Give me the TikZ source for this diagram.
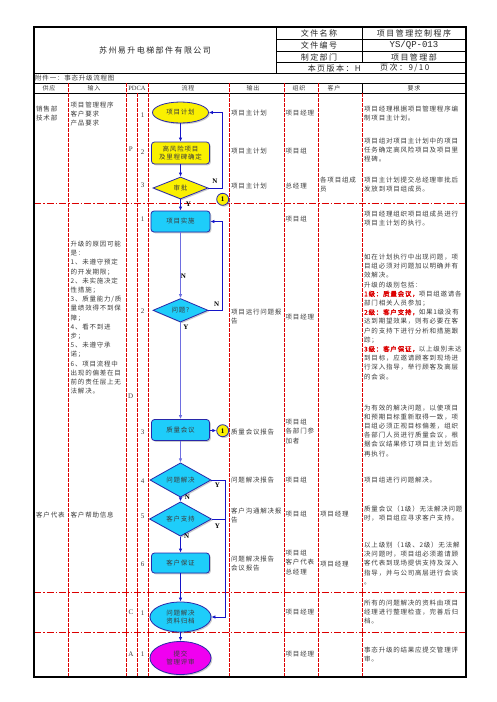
\documentclass[tikz,border=0pt]{standalone}
\usepackage{fontspec}
\setmainfont{Noto Sans CJK SC}
\newfontfamily\cjk[LetterSpace=12]{Noto Sans CJK SC}
\newfontfamily\cjkb[LetterSpace=12,FakeBold=2]{Noto Sans CJK SC}
\newfontfamily\cjkh[LetterSpace=18]{Noto Sans CJK SC}
\newfontfamily\latf{Liberation Serif}
\newfontfamily\monof{Liberation Mono}
\usetikzlibrary{shapes.geometric,arrows.meta,shadows}
\definecolor{lred}{RGB}{220,0,0}
\definecolor{bord}{RGB}{40,40,170}
\definecolor{conn}{RGB}{20,20,200}
\definecolor{connl}{RGB}{110,110,225}
\definecolor{fy}{RGB}{250,240,0}
\definecolor{fc}{RGB}{30,205,250}
\definecolor{fm}{RGB}{240,0,240}
\definecolor{txt}{RGB}{60,60,60}
\begin{document}
\begin{tikzpicture}[x=1pt,y=-1pt,
  body/.style={font=\cjk\fontsize{6.5}{9.2}\selectfont, text=txt, inner sep=0pt, align=left, anchor=north west},
  hdrtxt/.style={font=\cjkh\fontsize{8}{9}\selectfont, text=black!85, inner sep=0pt},
  colhd/.style={font=\cjk\fontsize{6}{7}\selectfont, text=txt, inner sep=0pt},
  numtxt/.style={font=\latf\fontsize{7}{8}\selectfont, text=txt, inner sep=0pt},
  yn/.style={font=\latf\fontsize{7}{8}\selectfont\bfseries, text=black, inner sep=0pt},
  shp/.style={draw=bord, line width=0.8pt, drop shadow={shadow xshift=1.3pt, shadow yshift=-1.3pt, opacity=0.4}, font=\cjk\fontsize{6.5}{8.5}\selectfont, text=txt, inner sep=0pt, align=center},
  rbox/.style={shp, rectangle, rounded corners=3pt},
  dia/.style={shp, diamond},
  ell/.style={shp, ellipse},
  onpage/.style={shp, circle, fill=fy, minimum size=12pt, font=\latf\fontsize{7}{8}\selectfont\bfseries, text=black},
  con/.style={draw=conn, line width=0.8pt, -{Latex[length=4pt,width=3.5pt]}},
  conl/.style={draw=connl, line width=0.9pt, -{Latex[length=4pt,width=3.5pt]}},
  lnk/.style={draw=conn, line width=0.8pt},
  vd/.style={draw=lred, line width=0.75pt, dash pattern=on 3.5pt off 1.5pt},
  hd/.style={draw=lred, line width=0.75pt, dash pattern=on 7pt off 2pt on 1.5pt off 2pt},
  bl/.style={draw=black, line width=0.8pt}
]
\useasboundingbox (0,0) rectangle (496,702);
\fill[white] (0,0) rectangle (496,702);

% ---------- grid ----------
\draw[bl] (276,27) -- (276,73);
\draw[bl] (362,27) -- (362,62);
\draw[bl] (276,39) -- (466,39);
\draw[bl] (276,51) -- (466,51);
\draw[bl] (276,62) -- (466,62);
\draw[bl] (34,73) -- (466,73);
\draw[bl] (34,83) -- (466,83);
\draw[bl] (34,93) -- (466,93);
\draw[bl] (362,83) -- (362,93);
\foreach \x in {68,126,148,229,284,318} \draw[vd] (\x,83) -- (\x,677);
\foreach \x in {137,362} \draw[vd] (\x,93) -- (\x,677);
\foreach \y in {203,592,632} \draw[hd] (34,\y) -- (466,\y);
\draw[line width=1.1pt] (34,27) rectangle (466,677);

% ---------- header ----------
\node[hdrtxt] (comp) at (155,50) {苏州易升电梯部件有限公司};
\node[hdrtxt] (h11) at (319,33) {文件名称};
\node[hdrtxt] (h12) at (414,33) {项目管理控制程序};
\node[hdrtxt] (h21) at (319,45) {文件编号};
\node[font=\monof\fontsize{9}{10}\selectfont, text=black!85, inner sep=0pt] (h22) at (414,45) {YS/QP-013};
\node[hdrtxt] (h31) at (319,57) {制定部门};
\node[hdrtxt] (h32) at (414,57) {项目管理部};
\node[hdrtxt, anchor=east] (h41) at (361,68) {本页版本：H};
\node[hdrtxt, anchor=west] (h42) at (380,68) {页次：9/10};
\node[colhd, anchor=west, font=\cjk\fontsize{6.5}{7}\selectfont] (att) at (35,78) {附件一：事态升级流程图};
\node[colhd] (c1) at (49,88) {供应};
\node[colhd] (c2) at (94,88) {输入};
\node[colhd, font=\latf\fontsize{6.5}{7}\selectfont] (c3) at (137,88) {PDCA};
\node[colhd] (c4) at (188,88) {流程};
\node[colhd] (c5) at (253,88) {输出};
\node[colhd] (c6) at (299,88) {组织};
\node[colhd] (c7) at (334,88) {客户};
\node[colhd] (c8) at (414,88) {要求};

% ---------- PDCA letters and step numbers ----------
\node[numtxt] (lp) at (130.7,149.3) {P};
\node[numtxt] (ld) at (130.7,396.7) {D};
\node[numtxt] (lc) at (131,612.7) {C};
\node[numtxt] (la) at (131,654.3) {A};
\node[numtxt] (n1) at (142.5,114.7) {1};
\node[numtxt] (n2) at (142.5,151.7) {2};
\node[numtxt] (n3) at (142.5,185.7) {3};
\node[numtxt] (n4) at (142.5,219.3) {1};
\node[numtxt] (n5) at (142.5,310.7) {2};
\node[numtxt] (n6) at (142.5,432.7) {3};
\node[numtxt] (n7) at (142.5,480.7) {4};
\node[numtxt] (n8) at (142.5,516) {5};
\node[numtxt] (n9) at (142.5,564.3) {6};
\node[numtxt] (n10) at (142.5,612.7) {1};
\node[numtxt] (n11) at (142.5,654.3) {1};

% ---------- supply / input ----------
\node[body] (s1) at (36,105.8) {销售部\\技术部};
\node[body] (s2) at (36,511.8) {客户代表};
\node[body] (i1) at (70.5,101.8) {项目管理程序\\客户要求\\产品要求};
\node[body] (i2) at (70.5,240.8) {升级的原因可能\\是：\\1、未遵守预定\\的开发期限；\\2、未实施决定\\性措施；\\3、质量能力/质\\量绩效得不到保\\障；\\4、看不到进\\步；\\5、未遵守承\\诺；\\6、项目流程中\\出现的偏差在目\\前的责任层上无\\法解决。};
\node[body] (i3) at (70.5,511.8) {客户帮助信息};

% ---------- output ----------
\node[body] (o1) at (231,109.8) {项目主计划};
\node[body] (o2) at (231,147.8) {项目主计划};
\node[body] (o3) at (231,182.8) {项目主计划};
\node[body] (o4) at (231,308.8) {项目运行问题报\\告};
\node[body] (o5) at (231,428.5) {质量会议报告};
\node[body] (o6) at (231,476.8) {问题解决报告};
\node[body] (o7) at (231,507.5) {客户沟通解决报\\告};
\node[body] (o8) at (231,556.1) {问题解决报告\\会议报告};

% ---------- organisation ----------
\node[body] (g1) at (285.5,109.8) {项目经理};
\node[body] (g2) at (285.5,147.8) {项目组};
\node[body] (g3) at (285.5,182.8) {总经理};
\node[body] (g4) at (285.5,215.8) {项目组};
\node[body] (g5) at (285.5,313.8) {项目经理};
\node[body] (g6) at (285.5,419.1) {项目组\\各部门参\\加者};
\node[body] (g7) at (285.5,476.8) {项目组};
\node[body] (g8) at (285.5,511.1) {项目组};
\node[body] (g9) at (285.5,550.1) {项目组\\客户代表\\总经理};
\node[body] (g10) at (285.5,608.5) {项目经理};
\node[body] (g11) at (285.5,650.8) {项目经理};

% ---------- customer ----------
\node[body] (k1) at (320,176.8) {各项目组成\\员};
\node[body] (k2) at (320,511.1) {项目经理};
\node[body] (k3) at (320,560.8) {项目经理};

% ---------- requirements ----------
\node[body] (r1) at (364,105.8) {项目经理根据项目管理程序编\\制项目主计划。};
\node[body] (r2) at (364,137.8) {项目组对项目主计划中的项目\\任务确定高风险项目及项目里\\程碑。};
\node[body] (r3) at (364,176.8) {项目主计划提交总经理审批后\\发放到项目组成员。};
\node[body] (r4) at (364,210.8) {项目经理组织项目组成员进行\\项目主计划的执行。};
\node[body] (r5) at (364,253.8) {如在计划执行中出现问题，项\\目组必须对问题加以明确并有\\效解决。\\升级的级别包括：\\{\color{lred}\cjkb 1级：质量会议，}项目组邀请各\\部门相关人员参加；\\{\color{lred}\cjkb 2级：客户支持，}如果1级没有\\达到期望效果，则有必要在客\\户的支持下进行分析和措施跟\\踪；\\{\color{lred}\cjkb 3级：客户保证，}以上级别未达\\到目标，应邀请顾客到现场进\\行深入指导，举行顾客及高层\\的会谈。};
\node[body] (r6) at (364,404.5) {为有效的解决问题，以使项目\\和预期目标重新取得一致，项\\目组必须正视目标偏差，组织\\各部门人员进行质量会议，根\\据会议结果修订项目主计划后\\再执行。};
\node[body] (r7) at (364,476.8) {项目组进行问题解决。};
\node[body] (r8) at (364,505.8) {质量会议（1级）无法解决问题\\时，项目组应寻求客户支持。};
\node[body] (r9) at (364,541.8) {以上级别（1级、2级）无法解\\决问题时，项目组必须邀请顾\\客代表到现场提供支持及深入\\指导，并与公司高层进行会谈\\。};
\node[body] (r10) at (364,599.5) {所有的问题解决的资料由项目\\经理进行整理检查，完善后归\\档。};
\node[body] (r11) at (364,646.8) {事态升级的结果应提交管理评\\审。};

% ---------- flow shapes ----------
\node[ell, fill=fy, minimum width=56pt, minimum height=21pt] (plan) at (180.5,112.5) {项目计划};
\node[rbox, fill=fy, minimum width=58pt, minimum height=22pt] (risk) at (180.5,153) {高风险项目\\及里程碑确定};
\node[dia, fill=fy, minimum width=55pt, minimum height=22pt] (appr) at (180.5,188) {审批};
\node[rbox, fill=fc, minimum width=59pt, minimum height=21pt] (exec) at (180.5,221.5) {项目实施};
\node[dia, fill=fc, minimum width=55pt, minimum height=22pt] (issue) at (180.5,310.3) {问题?};
\node[rbox, fill=fc, minimum width=58pt, minimum height=21pt] (qm) at (180.5,430) {质量会议};
\node[dia, fill=fc, minimum width=61pt, minimum height=22pt] (solved) at (180.5,480) {问题解决};
\node[dia, fill=fc, minimum width=62pt, minimum height=22pt] (cust) at (180.5,519) {客户支持};
\node[rbox, fill=fc, minimum width=58pt, minimum height=20pt] (guar) at (180.5,563) {客户保证};
\node[ell, fill=fc, minimum width=61pt, minimum height=30pt] (arch) at (180.5,617) {问题解决\\资料归档};
\node[ell, fill=fm, minimum width=61pt, minimum height=33pt] (rev) at (180.5,658) {提交\\管理评审};
\node[onpage] (c1a) at (222.7,199.3) {1};
\node[onpage] (c1b) at (222.7,430.7) {1};

% ---------- connectors ----------
\coordinate (lpP) at (222.7,150);
\coordinate (lpD) at (222.7,260);
\coordinate (lpC) at (225.3,550);
\draw[con] (plan) -- (risk);
\draw[con] (risk) -- (appr);
\draw[con] (appr.east) -| (lpP) |- (plan.east);
\draw[con] (appr) -- (exec);
\draw[conl] (exec) -- (issue);
\draw[con] (issue.east) -| (lpD) |- (exec.east);
\draw[conl] (issue) -- (qm);
\draw[con] (qm) -- (c1b);
\draw[conl] (qm) -- (solved);
\draw[con] (solved.east) -| (lpC) |- (arch.east);
\draw[lnk] (cust.east) -- (cust.east -| lpC);
\draw[con] (solved) -- (cust);
\draw[con] (cust) -- (guar);
\draw[con] (guar) -- (arch);
\draw[con] (arch) -- (rev);

% ---------- Y / N labels ----------
\node[yn] (yn1) at (215,181) {N};
\node[yn] (yn2) at (188.3,204.3) {Y};
\node[yn] (yn3) at (183.5,276.7) {N};
\node[yn] (yn4) at (216.7,304) {N};
\node[yn] (yn5) at (186,327.3) {Y};
\node[yn] (yn6) at (217.3,485) {Y};
\node[yn] (yn7) at (187.3,497.3) {N};
\node[yn] (yn8) at (217.3,526) {Y};
\node[yn] (yn9) at (186.7,536) {N};
\end{tikzpicture}
\end{document}
